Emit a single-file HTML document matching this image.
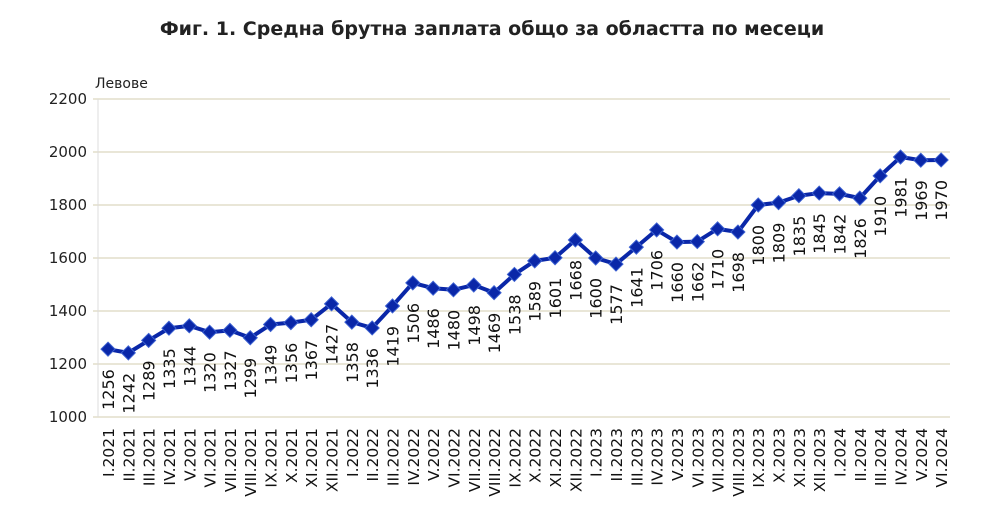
<!DOCTYPE html>
<html><head><meta charset="utf-8"><style>body{margin:0;background:#fff}svg{display:block}</style></head><body>
<svg id="c" width="1000" height="523" xmlns="http://www.w3.org/2000/svg" font-family="'DejaVu Sans','Liberation Sans',sans-serif">
<text x="492" y="35" text-anchor="middle" font-size="19" font-weight="bold" fill="#222">Фиг. 1. Средна брутна заплата общо за областта по месеци</text>
<text x="95" y="88" font-size="14" fill="#222">Левове</text>
<g id="g"></g>
</svg>
<script>
const d=[1256,1242,1289,1335,1344,1320,1327,1299,1349,1356,1367,1427,1358,1336,1419,1506,1486,1480,1498,1469,1538,1589,1601,1668,1600,1577,1641,1706,1660,1662,1710,1698,1800,1809,1835,1845,1842,1826,1910,1981,1969,1970];
const r=["I","II","III","IV","V","VI","VII","VIII","IX","X","XI","XII"];
const Y=v=>417-(v-1000)*318/1200, X=i=>108+i*20.32;
let s='';
for(let v=1000;v<=2200;v+=200){const y=Y(v);s+=`<line x1="93" x2="950" y1="${y}" y2="${y}" stroke="#e2ddca" stroke-width="1.5"/><text x="87" y="${y+5}" text-anchor="end" font-size="15" fill="#222">${v}</text>`;}
s+=`<line x1="98" x2="98" y1="99" y2="417" stroke="#ddd"/>`;
s+=`<polyline fill="none" stroke="#0a27a8" stroke-width="4" stroke-linejoin="round" points="${d.map((v,i)=>X(i)+','+Y(v)).join(' ')}"/>`;
d.forEach((v,i)=>{const x=X(i),y=Y(v);
s+=`<path d="M${x} ${y-7}L${x+7} ${y}L${x} ${y+7}L${x-7} ${y}Z" fill="#0a27a8" stroke="#3a5fd0" stroke-width="1"/>`;
s+=`<text transform="translate(${x+6},${y+20}) rotate(-90)" text-anchor="end" font-size="16" fill="#111">${v}</text>`;
const m=r[i%12]+'.'+(2021+Math.floor(i/12));
s+=`<text transform="translate(${x+6},428) rotate(-90)" text-anchor="end" font-size="15.5" fill="#111">${m}</text>`;});
document.getElementById('g').innerHTML=s;
</script>
</body></html>
